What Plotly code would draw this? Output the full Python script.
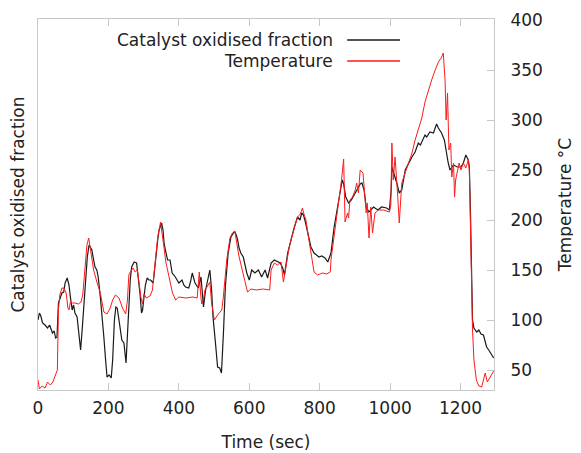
import plotly.graph_objects as go

# Temperature (right axis, deg C)
temp_t = [0, 4, 12, 20, 27, 35, 42, 50, 55, 58, 62, 68, 73, 80, 85, 88, 92, 98, 105, 115, 122, 127, 133, 139, 144,
          150, 158, 168, 177, 187, 196, 205, 212, 220, 230, 240, 249, 254, 258, 262, 270, 276, 282, 288, 292, 297,
          301, 308, 318, 325, 333, 340, 348, 354, 358, 363, 372, 382, 391, 400, 420, 440, 452, 458, 462, 465, 470,
          474, 480, 484, 488, 493, 501, 512, 522, 526, 531, 536, 545, 552, 559, 567, 570, 578, 588, 595, 605, 620,
          640, 658, 662, 671, 680, 690, 697, 704, 713, 720, 728, 737, 745, 751, 756, 761, 765, 775, 784, 794, 808,
          820, 830, 832, 840, 846, 855, 862, 868, 872, 879, 882, 886, 893, 901, 905, 910, 915, 923, 926, 932, 935,
          940, 945, 950, 957, 967, 981, 998, 1002, 1005, 1009, 1014, 1021, 1026, 1033, 1043, 1052, 1062, 1071,
          1080, 1090, 1099, 1109, 1118, 1128, 1137, 1145, 1151, 1156, 1159, 1163, 1167, 1172, 1175, 1180, 1183,
          1186, 1191, 1196, 1201, 1208, 1215, 1222, 1225, 1228, 1231, 1234, 1238, 1245, 1252, 1260, 1265, 1270,
          1276, 1285, 1294]
temp_v = [40, 31, 34, 32, 38, 35, 38, 45, 50, 110, 125, 132, 132, 127, 112, 110, 118, 117, 117, 116, 118, 125, 150,
          175, 182, 170, 150, 137, 127, 108, 106, 112, 120, 125, 122, 112, 106, 120, 145, 148, 152, 148, 150, 135,
          123, 116, 126, 122, 124, 130, 160, 183, 198, 185, 172, 158, 143, 127, 120, 123, 122, 123, 122, 148, 125,
          116, 121, 130, 133, 135, 138, 117, 100, 106, 110, 122, 140, 160, 182, 187, 189, 172, 165, 153, 137, 128,
          131, 130, 131, 130, 150, 157, 155, 158, 138, 153, 172, 182, 193, 203, 206, 212, 205, 200, 190, 167, 148,
          145, 147, 146, 148, 160, 180, 200, 223, 240, 261, 198, 207, 202, 220, 223, 230, 237, 227, 250, 247, 233,
          207, 217, 182, 213, 187, 207, 210, 210, 208, 215, 277, 240, 263, 227, 197, 237, 247, 257, 267, 280, 290,
          302, 318, 330, 340, 350, 358, 362, 367, 340, 300, 327, 270, 277, 243, 257, 223, 240, 250, 257, 250, 257,
          252, 260, 250, 200, 130, 90, 60, 40, 34, 33, 40, 47, 38, 44, 49]

# Catalyst oxidised fraction (left axis, no tick labels; read on the same visual scale)
cat_t = [0, 4, 8, 13, 20, 27, 33, 41, 46, 50, 54, 58, 63, 68, 73, 77, 83, 88, 92, 97, 101, 105, 111, 116, 121, 126,
         130, 134, 140, 145, 150, 153, 158, 162, 167, 171, 177, 182, 187, 192, 196, 202, 208, 212, 217, 221, 225,
         230, 234, 238, 244, 250, 254, 258, 262, 266, 273, 280, 285, 290, 294, 297, 301, 305, 310, 315, 320, 327,
         331, 335, 340, 344, 351, 355, 358, 363, 368, 375, 381, 390, 400, 409, 414, 419, 428, 433, 438, 446, 455,
         463, 470, 476, 484, 488, 493, 497, 504, 510, 516, 521, 527, 532, 540, 548, 555, 559, 563, 567, 571, 576,
         583, 588, 593, 600, 607, 616, 626, 635, 645, 652, 662, 671, 680, 688, 695, 700, 709, 718, 728, 737, 744,
         749, 754, 760, 765, 770, 775, 784, 792, 798, 806, 815, 823, 832, 841, 851, 858, 864, 868, 874, 882, 890,
         901, 910, 915, 920, 926, 932, 940, 953, 965, 976, 990, 998, 1003, 1005, 1011, 1019, 1026, 1033, 1043,
         1052, 1062, 1071, 1080, 1086, 1090, 1099, 1104, 1113, 1123, 1132, 1137, 1146, 1154, 1158, 1161, 1165,
         1170, 1180, 1191, 1201, 1208, 1215, 1222, 1225, 1228, 1231, 1234, 1238, 1246, 1252, 1258, 1265, 1270,
         1274, 1280, 1284, 1290, 1294]
cat_v = [100, 107, 104, 97, 95, 92, 95, 87, 89, 82, 83, 117, 122, 127, 128, 137, 142, 135, 123, 110, 115, 107, 103,
         88, 70, 93, 115, 140, 163, 175, 172, 170, 160, 153, 150, 143, 123, 105, 83, 60, 43, 45, 42, 60, 100, 113,
         112, 100, 90, 80, 77, 57, 85, 117, 140, 153, 158, 157, 143, 125, 107, 110, 123, 135, 142, 140, 140, 137,
         150, 167, 180, 190, 197, 190, 177, 168, 160, 160, 147, 143, 137, 140, 135, 133, 132, 138, 147, 137, 132,
         143, 113, 130, 143, 150, 130, 103, 77, 53, 52, 47, 90, 133, 167, 183, 187, 188, 185, 180, 172, 167, 163,
         155, 147, 140, 150, 147, 150, 143, 150, 142, 157, 160, 158, 157, 152, 145, 167, 180, 193, 203, 200, 207,
         205, 197, 190, 182, 173, 167, 165, 163, 164, 162, 158, 167, 193, 213, 225, 240, 236, 223, 217, 220, 227,
         233, 236, 237, 230, 213, 208, 213, 210, 213, 212, 210, 230, 253, 247, 237, 227, 230, 250, 257, 263, 268,
         277, 275, 278, 285, 283, 288, 287, 296, 292, 287, 280, 270, 263, 257, 250, 255, 253, 253, 257, 265, 260,
         253, 210, 150, 100, 92, 88, 90, 86, 85, 78, 73, 70, 68, 65, 62]

x_ticks = [0, 200, 400, 600, 800, 1000, 1200]
temp_ticks = [50, 100, 150, 200, 250, 300, 350, 400]
legend_names = ["Catalyst oxidised fraction", "Temperature"]
colors = ["#1a1a1a", "#ff1a1a"]

FONT = "DejaVu Sans"
TXT = "#222222"
GRID = "#c8c8c8"
tfont = dict(family=FONT, size=17, color=TXT)

fig = go.Figure()
fig.add_trace(go.Scatter(x=cat_t, y=cat_v, mode="lines", name=legend_names[0],
                         line=dict(color=colors[0], width=1.2), yaxis="y"))
fig.add_trace(go.Scatter(x=temp_t, y=temp_v, mode="lines", name=legend_names[1],
                         line=dict(color=colors[1], width=1.0), yaxis="y2"))

# custom legend: text right-aligned, line sample to the right
leg_y = [0.9434, 0.8868]
for name, col, yy in zip(legend_names, colors, leg_y):
    fig.add_annotation(x=0.652, y=yy, xref="paper", yref="paper", text=name, showarrow=False,
                       xanchor="right", yanchor="middle", font=tfont)
    fig.add_shape(type="line", xref="paper", yref="paper", x0=0.678, x1=0.794, y0=yy, y1=yy,
                  line=dict(color=col, width=1.5))

fig.update_layout(
    width=573, height=445,
    margin=dict(l=29.5, r=87, t=11, b=63),
    paper_bgcolor="white", plot_bgcolor="white",
    showlegend=False,
    font=dict(family=FONT, size=17, color=TXT),
    xaxis=dict(range=[0, 1295], tickvals=x_ticks, ticks="inside", ticklen=7, tickcolor=GRID,
               showline=True, linecolor=GRID, linewidth=1, mirror="ticks", showgrid=False, zeroline=False,
               automargin=False,
               title=dict(text="Time (sec)", standoff=18, font=tfont), ticklabelstandoff=3),
    yaxis=dict(range=[30, 401], showticklabels=False, ticks="", showline=True, linecolor=GRID,
               showgrid=False, zeroline=False, automargin=False,
               title=dict(text="Catalyst oxidised fraction", standoff=9, font=tfont)),
    yaxis2=dict(range=[30, 401], overlaying="y", side="right", tickvals=temp_ticks, ticks="inside",
                ticklen=7, tickcolor=GRID, showline=True, linecolor=GRID, showgrid=False, zeroline=False,
                automargin=False,
                ticklabelstandoff=12, title=dict(text="Temperature °C", standoff=17, font=tfont)),
)

fig.write_html("out.html")
